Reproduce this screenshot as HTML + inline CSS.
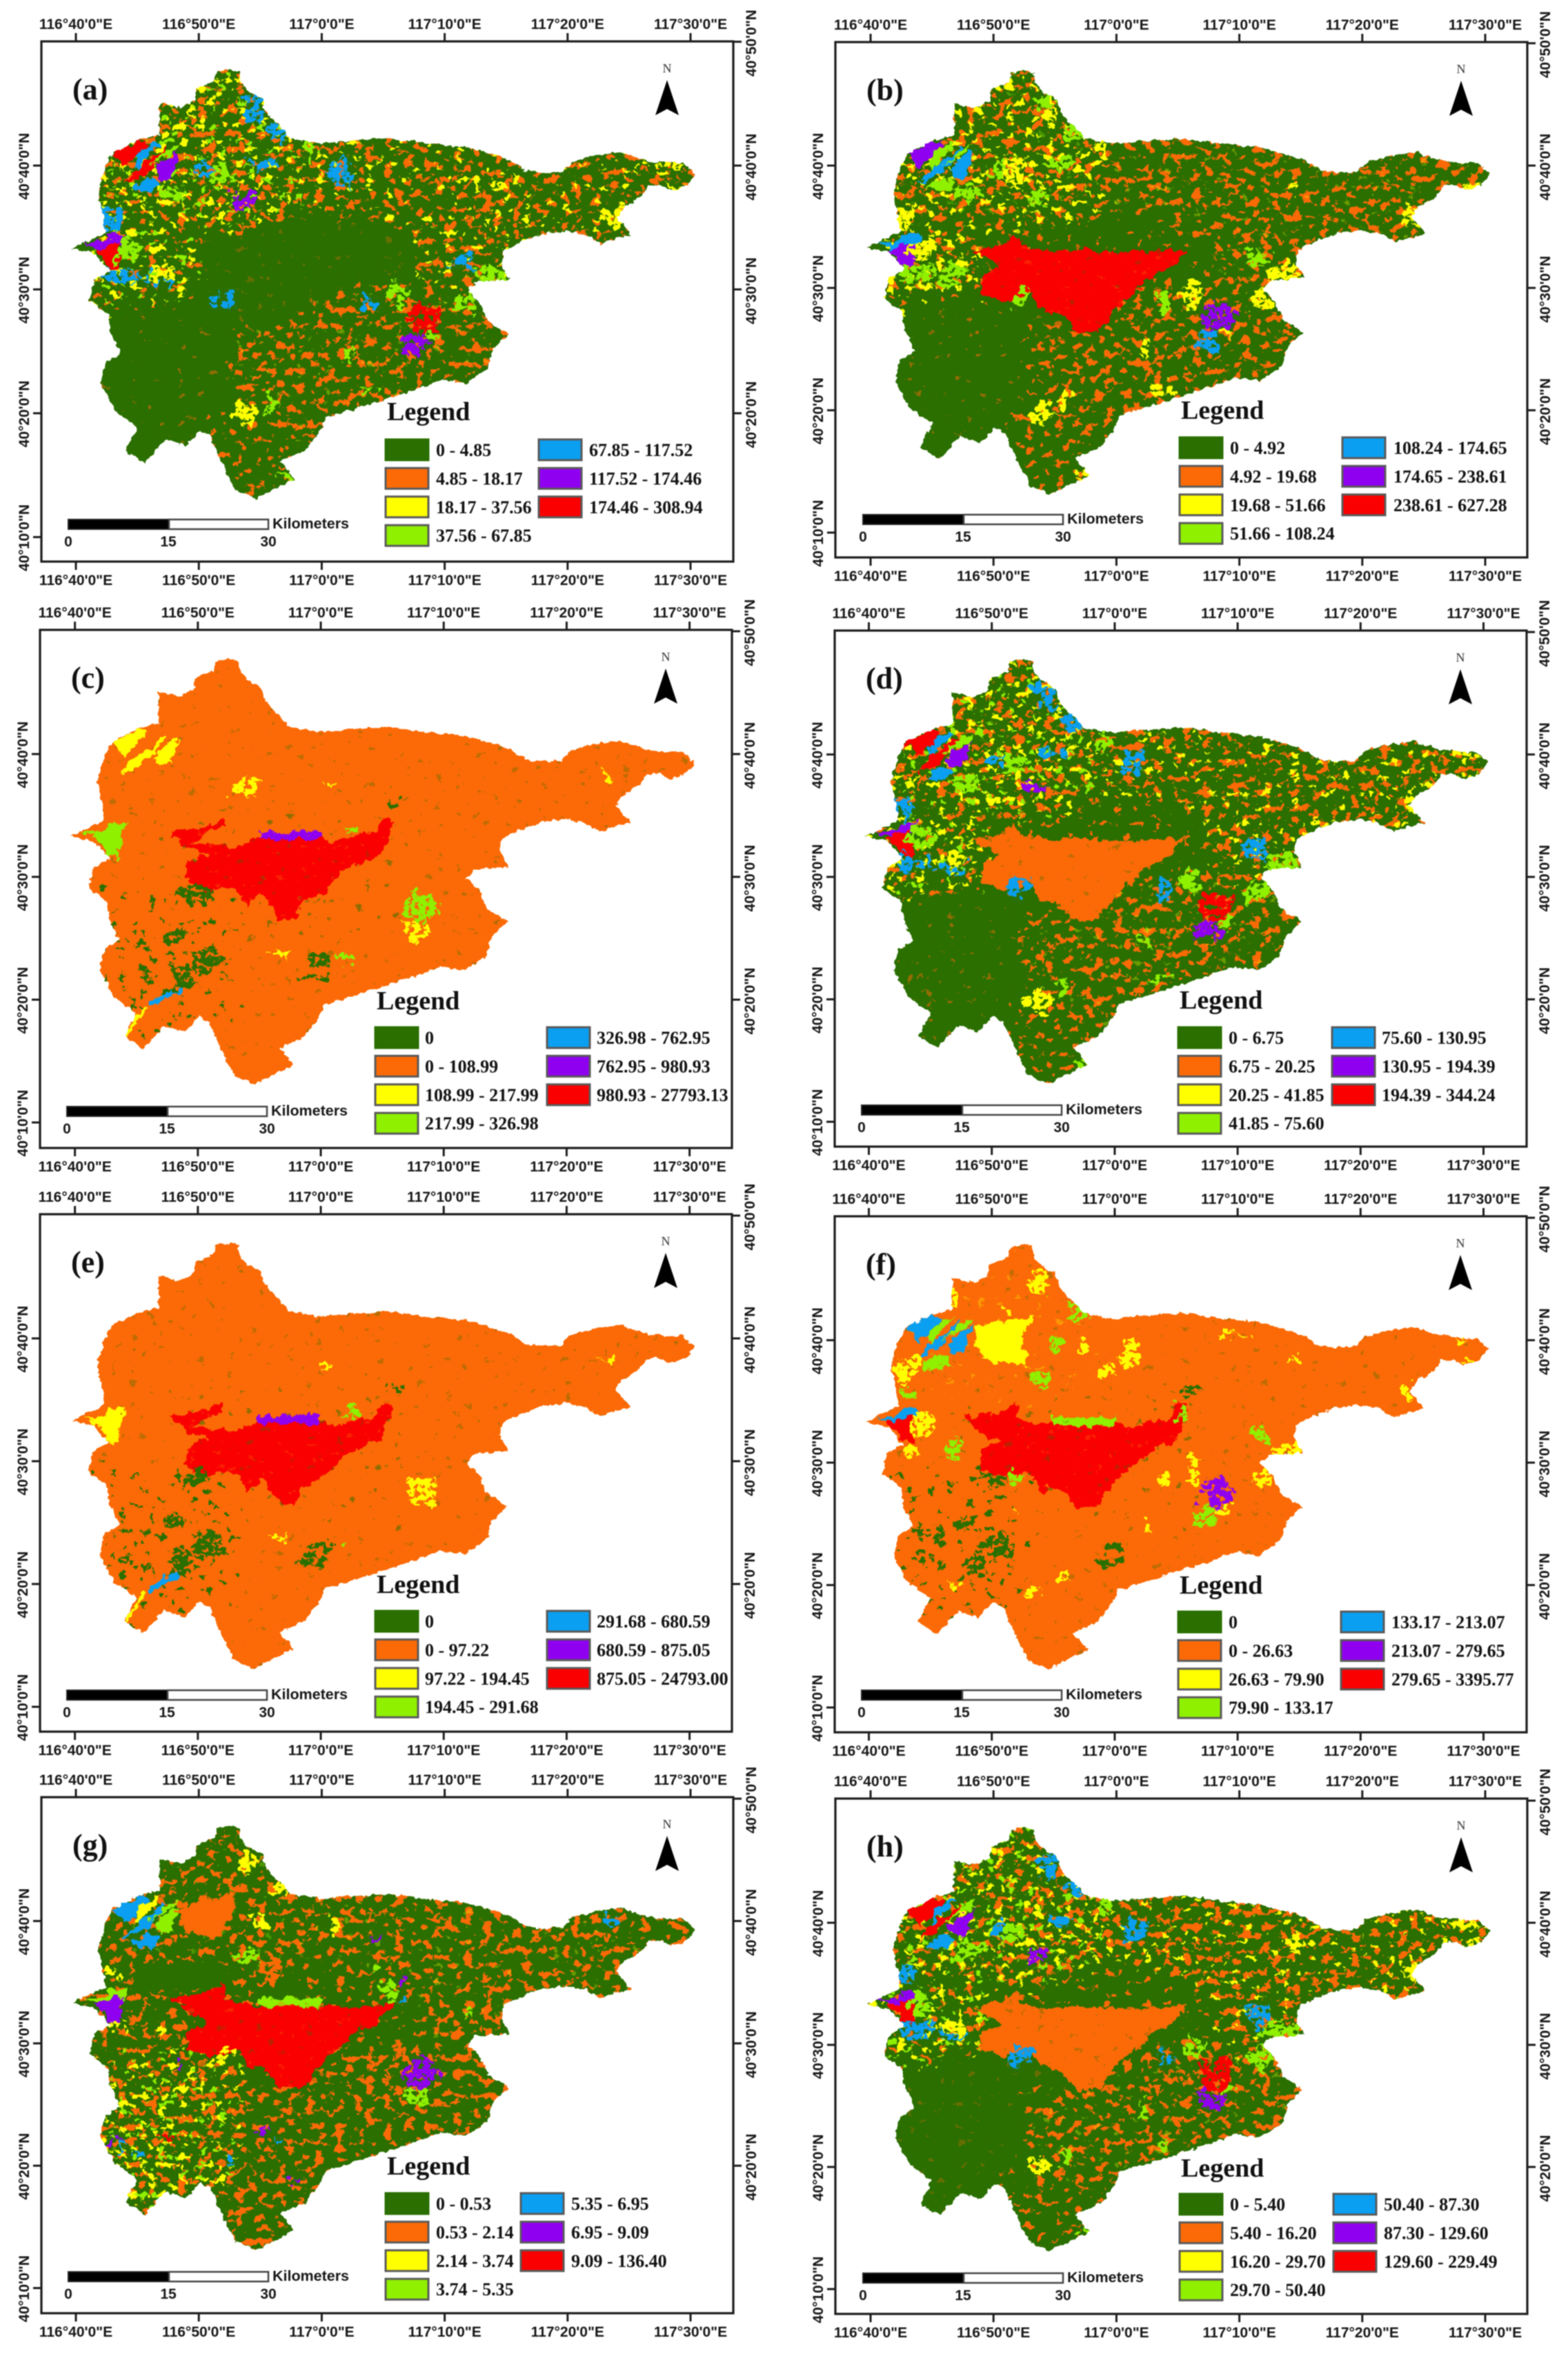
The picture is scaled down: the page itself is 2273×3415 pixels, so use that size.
<!DOCTYPE html>
<html lang="en">
<head>
<meta charset="utf-8">
<title>Basin classification maps (a)-(h)</title>
<style>
html,body{margin:0;padding:0;background:#fff;width:2273px;height:3415px;overflow:hidden}
svg{display:block;filter:blur(0.9px)}
.axis{font-family:"Liberation Sans",sans-serif;font-weight:bold;font-size:21px;fill:#161616}
.serif{font-family:"Liberation Serif",serif;font-weight:bold;fill:#111}
</style>
</head>
<body>
<svg id="fig" xmlns="http://www.w3.org/2000/svg" width="2273" height="3415" viewBox="0 0 2273 3415">
<rect x="0" y="0" width="2273" height="3415" fill="#fff"/>
<defs id="defs">
<filter id="rough" x="-3%" y="-3%" width="106%" height="106%" color-interpolation-filters="sRGB">
<feTurbulence type="fractalNoise" baseFrequency="0.13" numOctaves="2" seed="5" result="n"/>
<feDisplacementMap in="SourceGraphic" in2="n" scale="8" xChannelSelector="R" yChannelSelector="G"/>
</filter>
<filter id="polyRough" x="-5%" y="-5%" width="110%" height="110%" color-interpolation-filters="sRGB">
<feTurbulence type="fractalNoise" baseFrequency="0.07" numOctaves="3" seed="9" result="n"/>
<feDisplacementMap in="SourceGraphic" in2="n" scale="15" xChannelSelector="R" yChannelSelector="G"/>
</filter>
<filter id="blobby" x="-5%" y="-5%" width="110%" height="110%" color-interpolation-filters="sRGB">
<feTurbulence type="fractalNoise" baseFrequency="0.05" numOctaves="3" seed="17" result="n"/>
<feDisplacementMap in="SourceGraphic" in2="n" scale="34" xChannelSelector="R" yChannelSelector="G" result="d"/>
<feTurbulence type="fractalNoise" baseFrequency="0.13 0.16" numOctaves="2" seed="23" result="h"/>
<feColorMatrix in="h" type="matrix" values="0 0 0 0 0 0 0 0 0 0 0 0 0 0 0 0 0 0 30 -12" result="m"/>
<feComposite in="d" in2="m" operator="in"/>
</filter>
</defs>
</svg>
<script>
/* ---------- class palette and axis values ---------- */
const classColors = ['#2a6f00','#fb6a06','#ffff00','#8ff000','#0a9ff0','#9000f0','#fa0000'];
const lonTickMinutes = [0,10,20,30,40,50];
const lonTickLabels = ['116°40\'0"E','116°50\'0"E','117°0\'0"E','117°10\'0"E','117°20\'0"E','117°30\'0"E'];
const latLeftMinutes = [30,20,10,0];
const latLeftLabels = ['40°40\'0"N','40°30\'0"N','40°20\'0"N','40°10\'0"N'];
const latRightMinutes = [40,30,20,10];
const latRightLabels = ['40°50\'0"N','40°40\'0"N','40°30\'0"N','40°20\'0"N'];
const scaleLabels = ['0','15','30'];

/* ---------- geography: [minutes east of 116°40', minutes north of 40°10'] ---------- */
const basinOutline = [[12.55,37.8],[13.3,37.6],[13.4,36.8],[14,36.05],[15.2,35.4],[15.4,34.5],[16.1,33.6],[17,32.8],[17.4,32.2],[19.9,31.8],[22.3,32],[25.2,32.2],[26.4,32.1],[28.4,31.8],[31.7,31.5],[33.5,31],[35.4,30.4],[36.6,29.6],[38,29.4],[39.6,29.5],[40.3,30.3],[42.3,30.8],[44.3,31.1],[46.4,30.4],[48,30.2],[49.4,30.2],[50.4,29.3],[49.7,28.4],[48.4,28],[47.6,28.4],[46.6,28.4],[46,27.5],[44.5,26.6],[44,25.8],[45.2,24.4],[43.9,24.1],[42.7,23.7],[41.5,24.4],[39.9,24.7],[38,24.5],[36.2,23.8],[34.8,23.1],[34.6,22],[35.3,20.8],[32.5,20.6],[31.9,19.9],[32.9,18.9],[33.5,17.4],[35.2,16.4],[33.9,15.1],[33.5,13.6],[31.7,12.4],[29.7,12.7],[27.6,11.9],[24.8,11],[22.3,10.2],[20.3,9.6],[19.9,8.6],[18.7,7],[16.6,6.1],[17.8,4.7],[15.8,3.7],[14.6,3.1],[13,3.8],[12.1,5.5],[10.9,8.2],[10.1,8.6],[8.9,7.3],[7.3,7.9],[5.6,6],[4,7],[5,8.9],[3.2,10.2],[2,12.4],[2.4,14.1],[3.6,14.8],[2.8,16.5],[2.6,18],[1.1,19.1],[1.5,20.8],[2.8,21.5],[1.5,22.9],[-0.3,23.3],[0.5,23.7],[2.4,24.6],[2.2,26],[1.8,27.8],[2.4,29.9],[3,31],[5.2,32.1],[6.8,32.5],[6.8,35.1],[8.5,34.7],[9.7,35.3],[9.8,36.2],[11.3,36.8],[11.5,37.6]];

const zoneAreas = {
  basin:[[-4,42],[55,42],[55,-2],[-4,-2]],
  north:[[5,40],[19,40],[20,26],[13,24],[4,25],[-2,26],[0,34]],
  east:[[16,36],[55,36],[55,21],[36,19],[31,18],[27,20],[27,24],[24,25],[17,26]],
  southeast:[[22,21],[38,21],[38,7],[18,6],[12,12],[12,17],[18,18],[20,20]],
  south:[[10,11],[21,11],[20,0],[11,0]],
  west:[[-2,26],[10,26],[11,19],[-1,17]],
  southwest:[[-1,20],[14,20],[14,9],[10,6],[2,3],[-1,9]],
  aboveCore:[[4,28],[29,28],[29,21],[4,21]],
  coreZone:[[6,26],[28,26],[28,14],[6,14]]
};

const shapePolys = {
  nwA:[[2.96,30.9],[5.03,32.1],[5.98,31.7],[5.03,30.7],[3.9,29.8],[3.4,30.6]],
  nwB:[[5.2,31.1],[6.5,31.9],[6.9,31.8],[5.6,30.4],[4.9,29.6],[4.9,30.4]],
  nwC:[[6,30.4],[7.4,31.6],[7.3,31],[5.8,29.6],[5,29],[3.9,28.5],[5,29.8]],
  nwD:[[6.3,29.7],[8.4,31.3],[7.8,29.05],[6.9,28.9]],
  nwE:[[4.6,28.2],[5.8,29.05],[6.9,28.7],[6.2,27.9],[5.2,27.8]],
  nwF:[[5.8,29.9],[7.8,31.5],[8.4,31.7],[8,31.1]],
  westA:[[0.5,23.7],[2.4,23.8],[2.6,24.4],[4.2,24.4],[3.8,23.5],[2.2,23.2]],
  westB:[[1.3,23.2],[3.6,23.8],[3.6,21.5],[2.6,21.7],[2.2,22.6]],
  coreBlock:[[8.4,23],[10.7,23.5],[11.7,24.4],[12.3,23.5],[14.8,22.9],[16,23.2],[21.7,23],[22.5,22.9],[25.8,23.3],[25.3,22.6],[24.5,21.7],[22.5,20.7],[21.3,19.5],[19.6,18],[18.6,16.5],[16.8,16.3],[15.6,17.7],[13.9,18.3],[13.1,19.5],[11.1,18.9],[9,19.5],[9.2,21.1],[10.7,21.7]],
  coreFinger:[[7.8,23.7],[10.2,23.9],[12.1,24.8],[12.1,24.1],[10.2,23.3],[9.4,22.8],[13.1,22.4],[14.9,23.3],[20,23.2],[20.8,22.7],[22.5,23.3],[24.5,23.6],[25.1,24.8],[25.9,24.5],[25.5,23.3],[24.9,21.8],[22,20.6],[20.4,18.8],[18.4,17.8],[18,16.5],[16.7,16.5],[15.1,18.8],[14.1,17.5],[13.1,19.1],[10.6,18.8],[9,19.7],[9.2,21.2],[11,21.8],[9,22.4]],
  coreStrip:[[14.9,23.7],[20,23.7],[20,23.05],[14.9,23.05]],
  riverBlue:[[6.1,9.9],[8.6,11.1],[8.7,10.7],[6.2,9.4]],
  riverYellow:[[3.9,7],[5.7,9.5],[6,9.3],[4.2,6.9]],
  fPatch:[[8.6,31.2],[13.6,32],[12.4,30.4],[12.8,28],[9.6,28.3],[8.6,29.8]],
  gPatch:[[8.1,30.9],[13,32.4],[13,31.2],[11.7,28.7],[8.9,29]],
  gGreen:[[4.8,26.6],[12,26.6],[12.6,24.8],[8,24.2],[4.8,24.4]],
  gFinger:[[7.8,23.8],[10.2,24],[12,25],[12.2,24],[10,23],[8,23.4]]
};

/* [lon centre, lat centre, lon radius, lat radius] in minutes */
const shapeBlobs = {
  west1:[3.6,21.1,1.5,.6], west2:[6.6,20.9,1.2,.6], west3:[2.8,25.8,1,.8], east1:[31.5,22.3,1,.9],
  se2:[23.9,18.9,.5,.9], cen1:[12.2,19.2,.9,.8], n1:[14.2,35.3,1,.5], n1b:[14.6,34.2,.8,.7],
  n2:[16.6,32.8,.8,.9], n3:[15.2,30.1,1.1,.45], n4:[10.5,29.5,.8,.6], n5:[21.5,29.5,1,1.1],
  n6:[13.6,27.2,1,.7], seA:[28.2,17.6,1.4,1.2], seB:[27.6,15.7,1,.8], seC:[28.9,16.3,.6,.35],
  se3:[26.2,19.6,.7,1.2], e2:[33.5,21.2,1.5,.8], se4:[31.7,18.9,1.1,.9], w4:[4.2,23.2,1.2,.9],
  nw7:[7.9,27.8,1.3,.7], n7:[11.7,29.3,1,1], s1:[23.8,11.8,.8,.4], s2:[17.2,4.7,.6,.4],
  s3:[15.8,10.8,.4,.9], s4:[22.3,15,.4,.8], n8:[19.1,31.3,.4,.9], far1:[48.6,30,1.2,.4],
  far2:[48.8,28.3,.6,.35], s5:[13.8,9.9,1,.9], w5:[6.8,21.4,.9,.8], e3:[44.2,25.9,.9,.9], e4:[34.5,28.4,.5,.4],
  fo1:[8.8,11.7,.9,1], fo2:[10.7,13.3,1.3,1.1], fo3:[20,13.1,.9,.6], fo4:[19.4,11.9,1.2,.3],
  fo5:[8,15.1,1,.5], fo6:[10,18.6,1,.6], fo7:[8.6,18.7,.6,.3], fo8:[4.1,12,.4,.4],
  fo9:[5.7,11.7,.4,.4], fo10:[5.7,14.2,.5,.4], fo11:[4.1,14.5,.6,.25], fo12:[26.1,25.9,.6,.4],
  ty1:[20.6,27.7,.6,.2], ty2:[43.2,28.3,.6,.15], ty3:[16.7,13.9,1,.2], tl1:[22,13.3,.7,.4], tl2:[22.5,23.9,.6,.4],
  fy1:[13.9,34.9,1,.9], fl1:[16.9,32.4,.7,.8], fl2:[15.3,29.8,.9,.45], fl3:[13.7,26.9,1.1,.7],
  fy2:[21.4,28.9,.8,1.2], fl4:[25.5,24,.5,.7], fl5:[31.6,22.2,.8,.7], fy3:[34,21.1,1.3,.7],
  fy4:[26.5,19.1,.5,1.1], fy5:[24,18.7,.4,.8], fy6:[32,18.8,.8,.7], fy7:[43.8,25.8,.4,.6],
  fy8:[34.6,28.4,.4,.4], fy9:[12.2,16,.4,.4], fy10:[22.6,14.8,.3,.8], fy11:[15.9,10.7,.35,.6],
  fy12:[13.2,9.5,.5,.5], fy13:[6.7,10,.9,.15], fy14:[7,33.5,.5,.6], fy15:[11.2,32.7,.3,.6],
  fy16:[49,28.1,.6,.3], fy17:[48.3,30,.5,.35], fy18:[4.3,23.1,1,1], fl6:[6.7,21.2,.7,.9],
  fy19:[3.5,21,.7,.4], fy20:[3.1,27.7,1,1], fl7:[2.9,25.8,.5,.6], fl8:[5.5,28,1.2,.6], fl9:[12,18.8,.6,.6],
  fy21:[17.5,29.5,.5,.4], fy22:[19.3,27.5,.8,.5], fy23:[29.8,30.5,1.5,.2],
  go1:[16,26,.9,1.2], go2:[23.8,18.4,.5,1], go3:[26.2,19.6,.5,.9], gy1:[15,30.1,1,.4],
  gy2:[16.6,32.7,.7,.7], gy3:[14,34.8,.8,1.1], gy4:[21.1,29.8,.5,.8], gy5:[12.1,19,.7,.6],
  gy6:[2.8,26,.8,.7], gy7:[6.8,21.1,.5,.5], gy8:[3.4,21.3,.6,.5], gl1:[13.8,27.2,1,.7],
  gl2:[25.4,24.3,.5,.7], gl3:[31.7,22.5,.6,.6], gl4:[24.4,26,.5,.5], gp1:[8.3,18.2,.2,.5],
  gp2:[15,12.9,.5,.3], gp3:[3.3,12,.6,.3], gp4:[17.8,8.8,.3,.3], gp5:[24.4,28.5,.4,.2],
  gp6:[26.4,25.1,.3,.3], gb1:[3.6,11.2,.5,.4], gb2:[12.8,10.6,.3,.5], gb3:[16.4,12,.3,.3],
  gb4:[43.6,30.1,.5,.3], gb5:[26.8,23.3,.5,.15], gb6:[5.2,10.9,.5,.25], gb7:[9.9,17.3,.25,.3],
  gr1:[7.5,12.6,.5,.2], gg1:[2.5,18.8,1.5,1.1], go4:[48.5,28.2,.8,.3], go5:[47.9,30,1,.3]
};

/* ---------- per-panel classification: speckle = [class, density 0-3, zone] ---------- */
const speckleA = [[1,3,'north'],[1,3,'east'],[1,3,'southeast'],[1,2,'south'],[1,2,'west'],[1,0,'southwest'],[1,0,'basin'],[2,2,'north'],[2,2,'west'],[2,1,'east'],[2,0,'southeast'],[3,1,'north'],[3,1,'west']];
const speckleB = [[1,3,'north'],[1,3,'east'],[1,3,'southeast'],[1,2,'south'],[1,2,'west'],[1,0,'southwest'],[1,1,'aboveCore'],[1,0,'basin'],[2,2,'north'],[2,2,'west'],[2,0,'east'],[3,0,'north']];
const speckleC = [[0,0,'basin'],[0,1,'southwest']];
const speckleD = [[1,3,'north'],[1,3,'east'],[1,3,'southeast'],[1,2,'south'],[1,2,'west'],[1,0,'southwest'],[1,1,'aboveCore'],[1,0,'basin'],[2,2,'north'],[2,2,'west'],[2,1,'east'],[2,0,'southeast'],[3,1,'north'],[3,1,'west']];
const speckleE = [[0,0,'basin'],[0,1,'southwest']];
const speckleF = [[0,0,'basin'],[0,1,'southwest'],[2,0,'north']];
const speckleG = [[1,3,'north'],[1,3,'east'],[1,3,'southeast'],[1,3,'south'],[1,3,'west'],[1,3,'southwest'],[1,2,'aboveCore'],[2,2,'southwest'],[3,1,'southwest'],[2,0,'east'],[3,0,'north']];
const speckleH = [[1,3,'north'],[1,3,'east'],[1,3,'southeast'],[1,2,'south'],[1,2,'west'],[1,1,'aboveCore'],[1,0,'basin'],[2,2,'north'],[2,2,'west'],[2,1,'east'],[2,0,'southeast'],[3,1,'north'],[3,1,'west']];

/* flecks drawn over the central urban core */
const overRed = [[1,0,'coreZone'],[0,0,'coreZone']];
const overOrange = [[0,0,'coreZone']];

const shapesA = {nwA:6,nwB:4,nwC:6,nwF:3,nwD:5,nwE:4,westA:5,westB:6,west1:4,west2:4,west3:4,east1:4,se2:4,cen1:4,n1:4,n1b:4,n2:4,n3:4,n4:4,n5:4,n6:5,seA:6,seB:5,seC:3,se3:3,e2:3,se4:3,w4:3,nw7:3,n7:3,s1:3,s2:3,s3:3,s4:3,n8:3,far1:2,far2:2,s5:2,w5:2,e3:2,e4:2};
const shapesB = {coreBlock:6,nwA:5,nwB:3,nwC:4,nwF:3,nwD:4,nwE:3,westA:4,westB:5,west1:3,west2:3,west3:2,east1:3,se2:3,cen1:3,n1:3,n1b:2,n2:3,n3:3,n4:3,n6:3,seA:5,seB:4,seC:2,se3:2,e2:2,se4:2,w4:2,nw7:3,n7:2,s1:2,s2:2,s3:2,s4:2,n8:2,far2:2,s5:2,w5:3,e3:2,e4:2};
const shapesC = {coreFinger:6,coreStrip:5,nwA:2,nwC:2,nwD:2,n6:2,westA:3,westB:3,seA:3,seB:2,riverBlue:4,riverYellow:2,fo1:0,fo2:0,fo3:0,fo4:0,fo5:0,fo6:0,fo7:0,fo8:0,fo9:0,fo10:0,fo11:0,fo12:0,ty1:2,ty2:2,ty3:2,tl1:3,tl2:3};
const shapesD = {coreBlock:1,nwA:6,nwB:4,nwC:6,nwF:3,nwD:5,nwE:4,westA:5,westB:6,west1:4,west2:4,west3:4,east1:4,se2:4,cen1:4,n1:4,n1b:4,n2:4,n3:4,n4:4,n5:4,n6:5,seA:6,seB:5,seC:3,se3:3,e2:3,se4:3,w4:3,nw7:3,n7:3,s1:3,s2:3,s3:3,s4:3,n8:3,far1:2,far2:2,s5:2,w5:2,e3:2,e4:2};
const shapesE = {coreFinger:6,coreStrip:5,westA:2,westB:2,seA:2,riverBlue:4,riverYellow:2,fo1:0,fo2:0,fo3:0,fo4:0,fo5:0,fo6:0,fo7:0,fo8:0,fo9:0,fo10:0,fo11:0,fo12:0,ty1:2,ty2:2,ty3:2,tl1:3,tl2:3};
const shapesF = {coreBlock:6,coreFinger:6,coreStrip:3,nwA:4,nwB:3,nwC:4,nwF:3,nwD:4,nwE:3,westA:4,westB:6,fPatch:2,seA:5,seB:3,seC:2,fy1:2,fl1:3,fl2:3,fl3:3,fy2:2,fl4:3,fl5:3,fy3:2,fy4:2,fy5:2,fy6:2,fy7:2,fy8:2,fy9:2,fy10:2,fy11:2,fy12:2,fy13:2,fy14:2,fy15:2,fy16:2,fy17:2,fy18:2,fl6:3,fy19:2,fy20:2,fl7:3,fl8:3,fl9:3,fy21:2,fy22:2,fy23:2,fo1:0,fo2:0,fo3:0,fo4:0,fo5:0,fo6:0,fo7:0,fo8:0,fo9:0,fo10:0,fo11:0,fo12:0};
const shapesG = {gGreen:0,coreBlock:6,gFinger:6,coreStrip:3,nwA:4,nwB:2,nwC:4,nwF:3,nwD:3,nwE:4,westA:3,westB:5,gPatch:1,gg1:0,go1:1,go2:1,go3:1,go4:1,go5:1,gy1:2,gy2:2,gy3:2,gy4:2,gy5:2,gy6:2,gy7:2,gy8:2,gl1:3,gl2:3,gl3:3,gl4:3,seA:5,seB:3,gp1:5,gp2:5,gp3:5,gp4:5,gp5:5,gp6:5,gb1:4,gb2:4,gb3:4,gb4:4,gb5:4,gb6:4,gb7:4,gr1:6};
const shapesH = {coreBlock:1,nwA:6,nwB:4,nwC:6,nwF:3,nwD:5,nwE:4,westA:5,westB:6,west1:4,west2:4,west3:4,east1:4,se2:4,cen1:4,n1:4,n1b:4,n2:4,n3:4,n4:4,n5:4,n6:5,seA:6,seB:5,seC:3,se3:3,e2:3,se4:3,w4:3,nw7:3,n7:3,s1:3,s2:3,s3:3,s4:3,n8:3,far1:2,far2:2,s5:2,w5:2,e3:2,e4:2};

/* ---------- legend text ---------- */
const legendA = ['0 - 4.85','4.85 - 18.17','18.17 - 37.56','37.56 - 67.85','67.85 - 117.52','117.52 - 174.46','174.46 - 308.94'];
const legendB = ['0 - 4.92','4.92 - 19.68','19.68 - 51.66','51.66 - 108.24','108.24 - 174.65','174.65 - 238.61','238.61 - 627.28'];
const legendC = ['0','0 - 108.99','108.99 - 217.99','217.99 - 326.98','326.98 - 762.95','762.95 - 980.93','980.93 - 27793.13'];
const legendD = ['0 - 6.75','6.75 - 20.25','20.25 - 41.85','41.85 - 75.60','75.60 - 130.95','130.95 - 194.39','194.39 - 344.24'];
const legendE = ['0','0 - 97.22','97.22 - 194.45','194.45 - 291.68','291.68 - 680.59','680.59 - 875.05','875.05 - 24793.00'];
const legendF = ['0','0 - 26.63','26.63 - 79.90','79.90 - 133.17','133.17 - 213.07','213.07 - 279.65','279.65 - 3395.77'];
const legendG = ['0 - 0.53','0.53 - 2.14','2.14 - 3.74','3.74 - 5.35','5.35 - 6.95','6.95 - 9.09','9.09 - 136.40'];
const legendH = ['0 - 5.40','5.40 - 16.20','16.20 - 29.70','29.70 - 50.40','50.40 - 87.30','87.30 - 129.60','129.60 - 229.49'];

/* ---------- panel layout ---------- */
const PX_PER_LON_MIN = 17.82;
const FRAME_W = 1003;
const panels = [
 {id:'a',base:0,speckle:speckleA,shapes:shapesA,over:[],legend:legendA,fx:60,ft:60,fb:814,lon0:110,lat40:240,lat10:778.5,col1:559,col2:781,lab1:632,lab2:854,legY:637,legBase:609,legX:561,barX:99,barY:753},
 {id:'b',base:0,speckle:speckleB,shapes:shapesB,over:overRed,legend:legendB,fx:1211,ft:61,fb:808,lon0:1262,lat40:240,lat10:772,col1:1710,col2:1946,lab1:1783,lab2:2020,legY:634,legBase:607,legX:1712,barX:1251,barY:746},
 {id:'c',base:1,speckle:speckleC,shapes:shapesC,over:overRed,legend:legendC,fx:58,ft:913,fb:1664,lon0:108.6,lat40:1093,lat10:1627,col1:544,col2:793,lab1:616,lab2:865,legY:1489,legBase:1463,legX:546,barX:97,barY:1604},
 {id:'d',base:0,speckle:speckleD,shapes:shapesD,over:overOrange,legend:legendD,fx:1210,ft:914,fb:1662,lon0:1259.5,lat40:1093.6,lat10:1626,col1:1708,col2:1931,lab1:1781,lab2:2003,legY:1489,legBase:1462,legX:1710,barX:1249,barY:1602},
 {id:'e',base:1,speckle:speckleE,shapes:shapesE,over:overRed,legend:legendE,fx:58,ft:1760,fb:2510,lon0:108.6,lat40:1940,lat10:2474,col1:544,col2:793,lab1:616,lab2:865,legY:2335,legBase:2309,legX:546,barX:97,barY:2450},
 {id:'f',base:1,speckle:speckleF,shapes:shapesF,over:overRed,legend:legendF,fx:1210,ft:1763,fb:2511,lon0:1259.5,lat40:1942.6,lat10:2475,col1:1708,col2:1944,lab1:1781,lab2:2017,legY:2336,legBase:2310,legX:1710,barX:1249,barY:2450},
 {id:'g',base:0,speckle:speckleG,shapes:shapesG,over:overRed,legend:legendG,fx:60,ft:2605,fb:3353,lon0:110,lat40:2784.5,lat10:3316.5,col1:559,col2:755,lab1:632,lab2:828,legY:3179,legBase:3152,legX:561,barX:99,barY:3293},
 {id:'h',base:0,speckle:speckleH,shapes:shapesH,over:overOrange,legend:legendH,fx:1211,ft:2607,fb:3354,lon0:1262,lat40:2787,lat10:3318,col1:1710,col2:1933,lab1:1783,lab2:2006,legY:3180,legBase:3155,legX:1712,barX:1251,barY:3295}
];

/* ---------- helpers ---------- */
const NS = 'http://www.w3.org/2000/svg';
const root = document.getElementById('fig');
const defs = document.getElementById('defs');
function svgEl(tag, attrs, parent, text){
  const el = document.createElementNS(NS, tag);
  for (const k in attrs) el.setAttribute(k, attrs[k]);
  if (text !== undefined) el.textContent = text;
  parent.appendChild(el);
  return el;
}
function lonToX(p, m){ return p.lon0 + m * PX_PER_LON_MIN; }
function latToY(p, m){ return p.lat10 - m * (p.lat10 - p.lat40) / 30; }
function polyPoints(p, pts){ return pts.map(function(q){ return lonToX(p,q[0]).toFixed(1)+','+latToY(p,q[1]).toFixed(1); }).join(' '); }

/* raster-texture filters: noise threshold per density level, softened at the zone edge */
const densityThreshold = [0.74, 0.68, 0.63, 0.58];
const EDGE_WEIGHT = 0.25;
let filterMarkup = '';
for (let c = 0; c < 4; c++) for (let d = 0; d < 4; d++) {
  const cut = 30 * (densityThreshold[d] + EDGE_WEIGHT);
  filterMarkup += '<filter id="sp'+c+'-'+d+'" x="-5%" y="-5%" width="110%" height="110%" color-interpolation-filters="sRGB">'
   + '<feGaussianBlur in="SourceAlpha" stdDeviation="16" result="b"/>'
   + '<feTurbulence type="fractalNoise" baseFrequency="0.07 0.09" numOctaves="3" seed="'+(c*11+3)+'" result="n"/>'
   + '<feColorMatrix in="n" type="matrix" values="0 0 0 0 0 0 0 0 0 0 0 0 0 0 0 0 0 0 1 0" result="na"/>'
   + '<feComposite in="na" in2="b" operator="arithmetic" k1="0" k2="1" k3="'+EDGE_WEIGHT+'" k4="0" result="sum"/>'
   + '<feColorMatrix in="sum" type="matrix" values="0 0 0 0 0 0 0 0 0 0 0 0 0 0 0 0 0 0 30 -'+cut.toFixed(2)+'" result="m"/>'
   + '<feComposite in="SourceGraphic" in2="m" operator="in"/></filter>';
}
defs.insertAdjacentHTML('beforeend', filterMarkup);

/* ---------- draw ---------- */
panels.forEach(function(p){
  const panel = svgEl('g', {}, root);
  
  
  const fr = p.fx + FRAME_W;

  /* basin map */
  const clip = svgEl('clipPath', {id:'clip-'+p.id}, defs);
  svgEl('polygon', {points:polyPoints(p, basinOutline)}, clip);
  const mapRough = svgEl('g', {filter:'url(#rough)'}, panel);
  
  
  const map = svgEl('g', {'clip-path':'url(#clip-'+p.id+')'}, mapRough);
  const base = svgEl('polygon', {points:polyPoints(p, basinOutline), fill:classColors[p.base]}, map);
  
  
  p.speckle.forEach(function(s){
    const zone = svgEl('polygon', {points:polyPoints(p, zoneAreas[s[2]]), fill:classColors[s[0]], filter:'url(#sp'+s[0]+'-'+s[1]+')'}, map);
    
    
  });
  const polyLayer = svgEl('g', {filter:'url(#polyRough)'}, map);
  
  
  const overLayer = svgEl('g', {}, map);
  
  
  const blobLayer = svgEl('g', {filter:'url(#blobby)'}, map);
  
  
  Object.keys(p.shapes).forEach(function(name){
    const cls = p.shapes[name];
    let mark;
    if (shapePolys[name]) {
      mark = svgEl('polygon', {points:polyPoints(p, shapePolys[name]), fill:classColors[cls]}, polyLayer);
    } else {
      const b = shapeBlobs[name];
      mark = svgEl('ellipse', {cx:lonToX(p,b[0]), cy:latToY(p,b[1]), rx:b[2]*PX_PER_LON_MIN, ry:b[3]*(p.lat10-p.lat40)/30, fill:classColors[cls]}, blobLayer);
    }
    
    
  });
  p.over.forEach(function(s){
    const fleck = svgEl('polygon', {points:polyPoints(p, zoneAreas[s[2]]), fill:classColors[s[0]], filter:'url(#sp'+s[0]+'-'+s[1]+')'}, overLayer);
    
    
  });

  /* frame */
  const frame = svgEl('rect', {x:p.fx, y:p.ft, width:FRAME_W, height:p.fb-p.ft, fill:'none', stroke:'#1c1c1c', 'stroke-width':3.2}, panel);
  
  

  /* longitude axes */
  lonTickMinutes.forEach(function(m,i){
    const x = lonToX(p,m);
    const t1 = svgEl('line', {x1:x, x2:x, y1:p.ft-12, y2:p.ft, stroke:'#1c1c1c', 'stroke-width':3}, panel);
    
    
    const t2 = svgEl('line', {x1:x, x2:x, y1:p.fb, y2:p.fb+12, stroke:'#1c1c1c', 'stroke-width':3}, panel);
    
    
    const l1 = svgEl('text', {x:x, y:p.ft-18, 'text-anchor':'middle', class:'axis'}, panel, lonTickLabels[i]);
    
    
    const l2 = svgEl('text', {x:x, y:p.fb+34, 'text-anchor':'middle', class:'axis'}, panel, lonTickLabels[i]);
    
    
  });

  /* latitude axes */
  latLeftMinutes.forEach(function(m,i){
    const y = latToY(p,m);
    const t = svgEl('line', {x1:p.fx-12, x2:p.fx, y1:y, y2:y, stroke:'#1c1c1c', 'stroke-width':3}, panel);
    
    
    const bx = p.fx - 18;
    const l = svgEl('text', {x:bx, y:y+1, 'text-anchor':'middle', class:'axis', transform:'rotate(-90 '+bx+' '+(y+1)+')'}, panel, latLeftLabels[i]);
    
    
  });
  latRightMinutes.forEach(function(m,i){
    const y = latToY(p,m);
    const t = svgEl('line', {x1:fr, x2:fr+12, y1:y, y2:y, stroke:'#1c1c1c', 'stroke-width':3}, panel);
    
    
    const bx = fr + 33;
    const l = svgEl('text', {x:bx, y:y+2, 'text-anchor':'middle', class:'axis', transform:'rotate(-90 '+bx+' '+(y+2)+')'}, panel, latRightLabels[i]);
    
    
  });

  /* panel letter */
  const letter = svgEl('text', {x:p.fx+45, y:p.ft+84, class:'serif', 'font-size':44}, panel, '('+p.id+')');
  
  

  /* north arrow */
  const nx = p.fx + 907, ny = p.ft + 56;
  const nText = svgEl('text', {x:nx, y:ny-11, 'text-anchor':'middle', 'font-family':'"Liberation Serif",serif', 'font-size':18, fill:'#333'}, panel, 'N');
  
  
  const arrow = svgEl('polygon', {points:nx+','+ny+' '+(nx+17)+','+(ny+51)+' '+nx+','+(ny+42)+' '+(nx-17)+','+(ny+51), fill:'#000'}, panel);
  
  

  /* legend */
  const legendTitle = svgEl('text', {x:p.legX, y:p.legBase, class:'serif', 'font-size':38}, panel, 'Legend');
  
  
  p.legend.forEach(function(label,i){
    const second = i >= 4;
    const row = second ? i-4 : i;
    const sy = p.legY + row*41.4;
    const swatch = svgEl('rect', {x:second?p.col2:p.col1, y:sy, width:62, height:30, fill:classColors[i], stroke:(i===0?classColors[0]:'#5a5a5a'), 'stroke-width':3}, panel);
    
    
    const txt = svgEl('text', {x:second?p.lab2:p.lab1, y:sy+24, class:'serif', 'font-size':26}, panel, label);
    
    
  });

  /* scale bar */
  const black = svgEl('rect', {x:p.barX, y:p.barY, width:146, height:14, fill:'#000', stroke:'#222', 'stroke-width':2}, panel);
  
  
  const white = svgEl('rect', {x:p.barX+146, y:p.barY, width:144, height:14, fill:'#fff', stroke:'#444', 'stroke-width':2.5}, panel);
  
  
  scaleLabels.forEach(function(s,i){
    const st = svgEl('text', {x:p.barX+i*145, y:p.barY+39, 'text-anchor':'middle', class:'axis'}, panel, s);
    
    
  });
  const km = svgEl('text', {x:p.barX+296, y:p.barY+13, class:'axis', 'font-size':21, textLength:111, lengthAdjust:'spacingAndGlyphs'}, panel, 'Kilometers');
  
  
});
</script>
</body>
</html>
